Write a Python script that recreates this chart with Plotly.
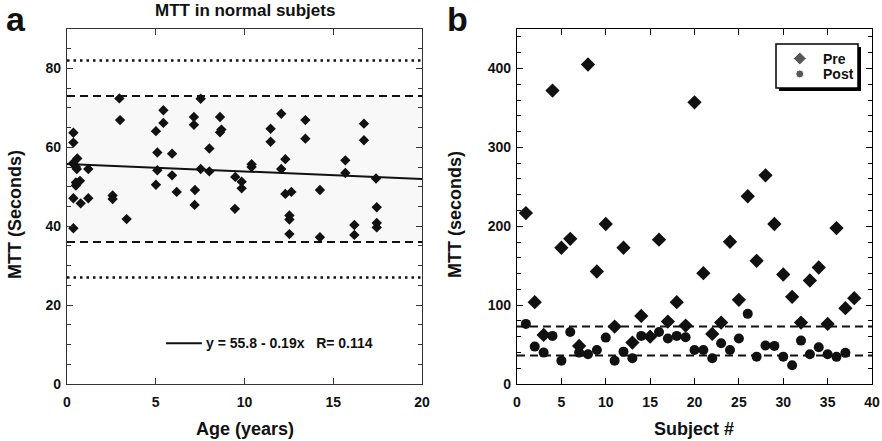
import plotly.graph_objects as go

# ---------------- Panel a data: MTT in normal subjects ----------------
age_years = [0.36, 0.36, 0.58, 0.35, 0.42, 0.50, 0.55, 1.20, 0.50, 0.73, 0.50, 0.36,
             0.77, 1.20, 2.57, 2.57, 0.36, 3.36, 2.95, 2.99, 5.01, 5.43, 5.43, 5.09,
             5.09, 5.01, 5.92, 5.92, 6.18, 7.15, 7.15, 7.53, 7.53, 7.21, 7.19, 8.02,
             8.02, 8.62, 8.70, 8.62, 9.48, 9.46, 9.84, 9.84, 10.40, 10.40, 11.47, 11.47,
             12.07, 12.30, 12.07, 12.30, 12.64, 12.53, 12.53, 12.53, 13.43, 13.43, 14.25, 14.25,
             15.68, 15.68, 16.19, 16.19, 16.73, 16.73, 17.41, 17.45, 17.45, 17.45]
mtt_normal = [63.7, 61.2, 57.2, 56.0, 55.5, 55.0, 54.5, 54.5, 51.1, 51.5, 50.3, 47.1,
              45.8, 47.1, 47.8, 46.9, 39.5, 41.8, 72.4, 66.9, 64.1, 69.4, 66.2, 58.7,
              54.2, 50.5, 58.4, 52.9, 48.7, 67.7, 65.7, 72.3, 54.5, 49.2, 45.4, 59.7,
              53.9, 67.7, 64.5, 63.8, 52.5, 44.4, 51.3, 49.6, 55.7, 55.0, 64.7, 61.4,
              68.5, 57.0, 54.5, 48.2, 48.7, 42.7, 41.7, 38.0, 66.9, 62.2, 49.2, 37.2,
              56.7, 53.5, 40.3, 37.8, 66.0, 61.8, 52.1, 44.8, 40.8, 39.7]

fit_intercept = 55.8
fit_slope = -0.19
fit_x = [0, 20]
fit_y = [fit_intercept + fit_slope * x for x in fit_x]

dotted_limits = [82, 27]   # outer limits
dashed_limits = [73, 36]   # inner limits (normal range)

# ---------------- Panel b data: Pre / Post per subject ----------------
subjects = list(range(1, 39))
mtt_pre = [216.7, 103.7, 62.2, 372.0, 172.7, 184.0, 48.3, 405.0, 142.6, 202.8,
           72.8, 172.7, 52.5, 86.3, 60.0, 182.9, 79.1, 103.7, 74.1, 357.0,
           140.5, 63.5, 77.9, 180.3, 106.7, 238.0, 156.2, 264.5, 202.8, 138.8,
           110.5, 77.9, 131.2, 147.7, 76.2, 197.7, 96.1, 108.8]
mtt_post = [76.2, 47.4, 39.8, 61.0, 29.6, 66.0, 39.8, 37.7, 43.2, 58.8,
            29.6, 41.0, 32.6, 61.0, None, 66.0, 57.6, 61.0, 59.3, 43.2,
            43.2, 32.6, 51.7, 43.2, 57.6, 88.9, 34.7, 48.7, 48.3, 34.7,
            23.7, 55.0, 37.7, 46.6, 37.7, 34.4, 39.5, None]

legend_names = ["Pre", "Post"]
legend_symbols = ["diamond", "circle"]

FONT = "Liberation Sans, Arial, Helvetica, sans-serif"
INK = "#111111"
W, H = 882, 441

def px_x(p):
    return p / W

def px_y(p):
    return (H - p) / H

fig = go.Figure()

# Panel a
fig.add_trace(go.Scatter(x=age_years, y=mtt_normal, mode="markers",
                         marker=dict(symbol="diamond", size=8, color=INK),
                         xaxis="x", yaxis="y", showlegend=False, hoverinfo="skip"))
fig.add_trace(go.Scatter(x=fit_x, y=fit_y, mode="lines",
                         line=dict(color=INK, width=2),
                         xaxis="x", yaxis="y", showlegend=False, hoverinfo="skip"))

# Panel b
fig.add_trace(go.Scatter(x=subjects, y=mtt_pre, mode="markers", name="Pre",
                         marker=dict(symbol="diamond", size=11, color=INK),
                         xaxis="x2", yaxis="y2", showlegend=False))
fig.add_trace(go.Scatter(x=subjects, y=mtt_post, mode="markers", name="Post",
                         marker=dict(symbol="circle", size=10, color=INK),
                         xaxis="x2", yaxis="y2", showlegend=False))

# Legend key markers (boxed key in panel b), drawn on a small overlay axis
fig.add_trace(go.Scatter(x=[0.29, 0.29], y=[0.67, 0.32], mode="markers",
                         marker=dict(symbol=legend_symbols, size=[10, 8], color=INK),
                         xaxis="x3", yaxis="y3", showlegend=False, hoverinfo="skip"))

shapes = []
# shaded normal band in panel a
shapes.append(dict(type="rect", xref="x", yref="y", x0=0, x1=20,
                   y0=dashed_limits[1], y1=dashed_limits[0],
                   fillcolor="#f8f8f8", line=dict(width=0), layer="below"))
DOT = "2.5px,4px"
DASH = "8px,5px"
for v in dotted_limits:
    shapes.append(dict(type="line", xref="x", yref="y", x0=0, x1=20, y0=v, y1=v,
                       line=dict(color=INK, width=2.5, dash=DOT)))
for v in dashed_limits:
    shapes.append(dict(type="line", xref="x", yref="y", x0=0, x1=20, y0=v, y1=v,
                       line=dict(color=INK, width=2, dash=DASH)))
    shapes.append(dict(type="line", xref="x2", yref="y2", x0=0, x1=40, y0=v, y1=v,
                       line=dict(color=INK, width=2, dash=DASH)))
# fit-line key in panel a
shapes.append(dict(type="line", xref="x", yref="y", x0=5.58, x1=7.6, y0=10.3, y1=10.3,
                   line=dict(color=INK, width=2)))
# legend box with drop shadow (panel b)
shapes.append(dict(type="rect", xref="paper", yref="paper",
                   x0=px_x(779), x1=px_x(861), y0=px_y(91), y1=px_y(47),
                   fillcolor="black", line=dict(width=0), layer="below"))
shapes.append(dict(type="rect", xref="paper", yref="paper",
                   x0=px_x(776), x1=px_x(858), y0=px_y(88), y1=px_y(44),
                   fillcolor="white", line=dict(color="black", width=1.5), layer="below"))

tickfont = dict(family=FONT, size=14, color=INK, weight="bold")
titlefont = dict(family=FONT, size=18, color=INK, weight="bold")

def axis_common(col):
    return dict(showline=True, linecolor=col, linewidth=1.3, mirror="ticks",
                ticks="inside", ticklen=6, tickcolor=col, tickwidth=1.3,
                showgrid=False, zeroline=False, tickfont=tickfont, fixedrange=True,
                automargin=False)

ydom = [px_y(384), px_y(29)]

fig.update_layout(
    width=W, height=H, autosize=False,
    margin=dict(l=0, r=0, t=0, b=0, pad=0),
    paper_bgcolor="white", plot_bgcolor="rgba(0,0,0,0)",
    font=dict(family=FONT, color=INK),
    showlegend=False,
    xaxis=dict(domain=[px_x(67), px_x(422)], range=[0, 20], tickvals=[0, 5, 10, 15, 20],
               anchor="y", ticklabelstandoff=5, **axis_common("#333333")),
    yaxis=dict(domain=ydom, range=[0, 90], tickvals=[0, 20, 40, 60, 80],
               minor=dict(dtick=5, ticks="inside", ticklen=4, tickcolor="#333333"),
               anchor="x", ticklabelstandoff=2, **axis_common("#333333")),
    xaxis2=dict(domain=[px_x(517), px_x(872)], range=[0, 40], dtick=5, tick0=0,
                anchor="y2", ticklabelstandoff=5, **axis_common("black")),
    yaxis2=dict(domain=ydom, range=[0, 450], tickvals=[0, 100, 200, 300, 400],
                minor=dict(dtick=20, ticks="inside", ticklen=4, tickcolor="black"),
                anchor="x2", ticklabelstandoff=2, **axis_common("black")),
    xaxis3=dict(domain=[px_x(776), px_x(858)], range=[0, 1], visible=False,
                anchor="y3", fixedrange=True, automargin=False),
    yaxis3=dict(domain=[px_y(88), px_y(44)], range=[0, 1], visible=False,
                anchor="x3", fixedrange=True, automargin=False),
    shapes=shapes,
    annotations=[
        dict(text="MTT in normal subjets", xref="paper", yref="paper",
             x=px_x(245), y=px_y(11), xanchor="center", yanchor="middle",
             showarrow=False, font=dict(family=FONT, size=17, color=INK, weight="bold")),
        dict(text="a", xref="paper", yref="paper", x=px_x(16), y=px_y(19),
             xanchor="center", yanchor="middle", showarrow=False,
             font=dict(family=FONT, size=34, color=INK, weight="bold")),
        dict(text="b", xref="paper", yref="paper", x=px_x(458), y=px_y(19),
             xanchor="center", yanchor="middle", showarrow=False,
             font=dict(family=FONT, size=34, color=INK, weight="bold")),
        # axis titles
        dict(text="Age (years)", xref="paper", yref="paper", x=px_x(245), y=px_y(429),
             xanchor="center", yanchor="middle", showarrow=False, font=titlefont),
        dict(text="Subject #", xref="paper", yref="paper", x=px_x(694), y=px_y(429),
             xanchor="center", yanchor="middle", showarrow=False, font=titlefont),
        dict(text="MTT (Seconds)", xref="paper", yref="paper", x=px_x(15), y=px_y(215),
             xanchor="center", yanchor="middle", textangle=-90, showarrow=False, font=titlefont),
        dict(text="MTT (seconds)", xref="paper", yref="paper", x=px_x(455), y=px_y(215),
             xanchor="center", yanchor="middle", textangle=-90, showarrow=False, font=titlefont),
        dict(text="y = 55.8 - 0.19x   R= 0.114", xref="x", yref="y", x=7.7, y=10.3,
             xanchor="left", yanchor="middle", showarrow=False,
             font=dict(family=FONT, size=14, color=INK, weight="bold")),
        dict(text=legend_names[0], xref="x3", yref="y3", x=0.56, y=0.67,
             xanchor="left", yanchor="middle", showarrow=False, height=15, borderpad=0,
             font=dict(family=FONT, size=14, color=INK, weight="bold")),
        dict(text=legend_names[1], xref="x3", yref="y3", x=0.56, y=0.32,
             xanchor="left", yanchor="middle", showarrow=False, height=15, borderpad=0,
             font=dict(family=FONT, size=14, color=INK, weight="bold")),
    ],
)

fig.write_html("out.html",
               config={"displayModeBar": False, "responsive": False},
               default_width="882px", default_height="441px",
               post_script="document.body.style.margin='0';document.body.style.padding='0';"
                           "document.body.style.overflow='hidden';")
